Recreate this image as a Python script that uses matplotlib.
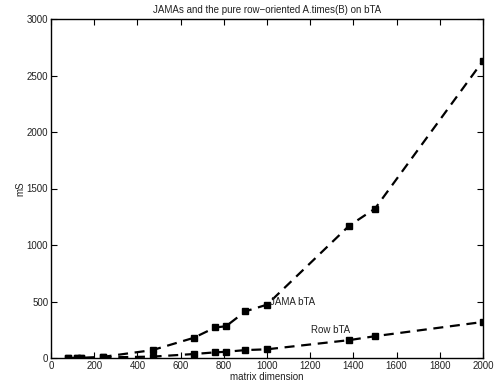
import matplotlib
matplotlib.use("Agg")
import matplotlib.pyplot as plt

plt.rcParams['font.family'] = ['Liberation Sans', 'DejaVu Sans']

n_jama = [80, 120, 140, 240, 470, 660, 760, 810, 900, 1000, 1380, 1500, 2000]
t_jama = [0, 0, 0, 10, 70, 178, 270, 281, 413, 472, 1170, 1322, 2630]
n_row = [80, 120, 140, 240, 470, 660, 760, 810, 900, 1000, 1380, 1500, 2000]
t_row = [0, 0, 0, 5, 12, 35, 50, 55, 70, 77, 158, 193, 319]

xticks = list(range(0, 2001, 200))
yticks = list(range(0, 3001, 500))

fig = plt.figure(figsize=(4.95, 3.86), dpi=100)
ax = fig.add_axes([51/495, 1 - 358/386, 432/495, 339/386])

style = dict(color='black', linestyle='--', linewidth=1.6, marker='s',
             markersize=5, dashes=(4.5, 3))
ax.plot(n_jama, t_jama, **style)
ax.plot(n_row, t_row, **style)

ax.text(1015, 495, 'JAMA bTA', fontsize=7, ha='left', va='center', color='#222222')
ax.text(1206, 248, 'Row bTA', fontsize=7, ha='left', va='center', color='#222222')

ax.set_xlim(0, 2000)
ax.set_ylim(0, 3000)
ax.set_xticks(xticks)
ax.set_yticks(yticks)
ax.tick_params(direction='in', top=True, right=True, labelsize=7, length=4, width=0.8, pad=2,
               labelcolor='#222222')
for s in ax.spines.values():
    s.set_linewidth(1.0)
ax.set_xlabel('matrix dimension', fontsize=7, labelpad=1, color='#222222')
ax.set_ylabel('mS', fontsize=7, labelpad=1, color='#222222')
ax.set_title('JAMAs and the pure row\u2212oriented A.times(B) on bTA', fontsize=7, pad=4, color='#222222')

fig.savefig('out.png', dpi=100)
